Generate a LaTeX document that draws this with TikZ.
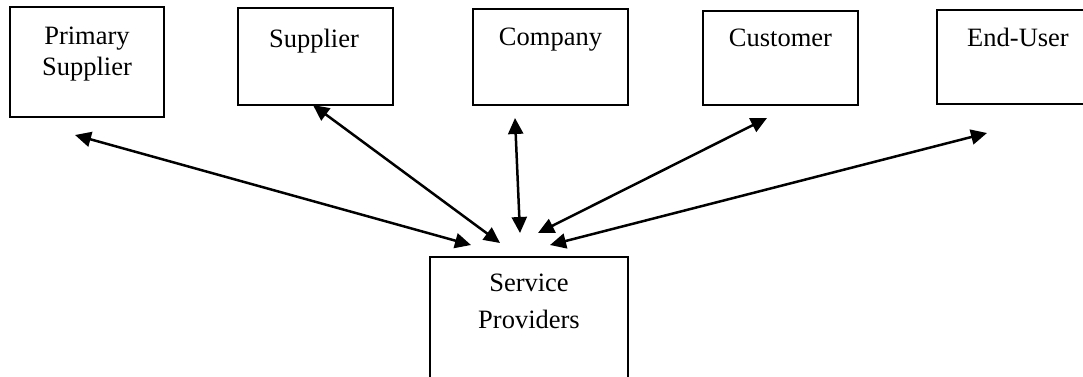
\documentclass[tikz,border=0pt]{standalone}
\usepackage{fontspec}
\setmainfont{Liberation Serif}
\usetikzlibrary{arrows.meta}

\begin{document}
\begin{tikzpicture}[x=1pt,y=-1pt,
  box/.style={draw=black, line width=1.2pt, rectangle, inner sep=0pt},
  lbl/.style={anchor=north, inner sep=0pt, align=center,
              font=\fontsize{26.5}{31}\selectfont},
  link/.style={line width=2.5pt, {Triangle[length=16pt,width=15pt]}-{Triangle[length=16pt,width=15pt]}}]

  \useasboundingbox (0,0) rectangle (1083,376);

  % actor boxes along the top
  \node[box, minimum width=154pt, minimum height=110pt] (ps)  at (87,62)     {};
  \node[box, minimum width=155pt, minimum height=97pt]  (sup) at (315.5,56.5) {};
  \node[box, minimum width=155pt, minimum height=96pt]  (com) at (550.5,57)  {};
  \node[box, minimum width=155pt, minimum height=94pt]  (cus) at (780.5,58)  {};
  \node[box, minimum width=160pt, minimum height=94pt]  (eu)  at (1017,57)   {};
  % central box
  \node[box, minimum width=198pt, minimum height=133pt] (sp)  at (529,323.5) {};

  % box captions
  \node[lbl] (psT)  at (87,27)    {Primary\\Supplier};
  \node[lbl] (supT) at (314,29)   {Supplier};
  \node[lbl] (comT) at (550.5,28) {Company};
  \node[lbl] (cusT) at (780.5,29) {Customer};
  \node[lbl] (euT)  at (1018,28)  {End-User};
  \node[lbl, font=\fontsize{26.5}{37}\selectfont] (spT) at (529,274) {Service\\Providers};

  % arrow end points
  \coordinate (psA)  at (75,135);
  \coordinate (supA) at (313,105);
  \coordinate (comA) at (515,118);
  \coordinate (cusA) at (767,118);
  \coordinate (euA)  at (987,133);
  \coordinate (spP)  at (471,245);
  \coordinate (spS)  at (500,243);
  \coordinate (spC)  at (520,233);
  \coordinate (spU)  at (538,233);
  \coordinate (spE)  at (550,245);

  % two-way links to the service providers
  \draw[link] (psA)  -- (spP);
  \draw[link] (supA) -- (spS);
  \draw[link] (comA) -- (spC);
  \draw[link] (cusA) -- (spU);
  \draw[link] (euA)  -- (spE);
\end{tikzpicture}
\end{document}
